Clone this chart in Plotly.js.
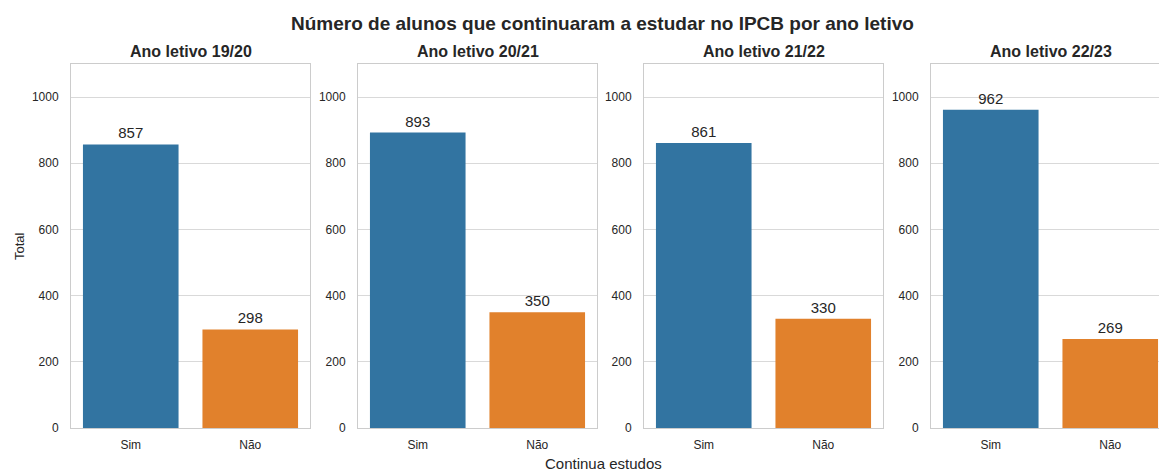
<!DOCTYPE html>
<html>
<head>
<meta charset="utf-8">
<script src="https://cdn.plot.ly/plotly-3.0.1.min.js"></script>
<style>
html,body{margin:0;padding:0;overflow:hidden;background:#fff;}
#chart{width:1172px;height:472px;}
</style>
</head>
<body>
<div id="chart"></div>
<script>
const categories = ['Sim', 'Não'];
const years = ['Ano letivo 19/20', 'Ano letivo 20/21', 'Ano letivo 21/22', 'Ano letivo 22/23'];
const simValues = [857, 893, 861, 962];
const naoValues = [298, 350, 330, 269];
const barColors = ['#3274a1', '#e1812c'];
const yTicks = [0, 200, 400, 600, 800, 1000];

const W = 1172;
const panelLeft = [71, 358, 644, 931];
const panelWidth = 239;
const font = 'Liberation Sans, Arial, sans-serif';
const txt = '#262626';

const data = [];
const layout = {
  width: W, height: 472,
  margin: {l: 0, r: 0, t: 64, b: 44},
  paper_bgcolor: '#fff', plot_bgcolor: '#fff',
  showlegend: false,
  font: {family: font, color: txt, size: 12},
  annotations: [],
  bargap: 0.2
};

years.forEach((yr, i) => {
  const n = i === 0 ? '' : String(i + 1);
  const vals = [simValues[i], naoValues[i]];
  data.push({
    type: 'bar', x: categories, y: vals,
    xaxis: 'x' + n, yaxis: 'y' + n,
    marker: {color: barColors, line: {width: 0}},
    text: vals.map(String), textposition: 'outside',
    textfont: {family: font, size: 15, color: txt},
    cliponaxis: false, hoverinfo: 'skip', width: 0.8
  });
  const d0 = panelLeft[i] / W, d1 = (panelLeft[i] + panelWidth) / W;
  layout['xaxis' + n] = {
    domain: [d0, d1], anchor: 'y' + n,
    range: [-0.5, 1.5], showgrid: false, zeroline: false,
    showline: true, mirror: true, linecolor: '#cccccc', linewidth: 1,
    ticks: '', tickfont: {family: font, size: 12, color: txt},
    ticklabelstandoff: 6, fixedrange: true
  };
  layout['yaxis' + n] = {
    domain: [0, 1], anchor: 'x' + n,
    range: [0, 1100], tickvals: yTicks, ticktext: yTicks.map(String),
    showgrid: true, gridcolor: '#d9d9d9', gridwidth: 1, zeroline: false,
    showline: true, mirror: true, linecolor: '#cccccc', linewidth: 1,
    ticks: '', tickfont: {family: font, size: 12, color: txt},
    ticklabelstandoff: 9, fixedrange: true
  };
  layout.annotations.push({
    text: '<b>' + yr + '</b>', xref: 'paper', yref: 'paper',
    x: (d0 + d1) / 2, y: 1, xanchor: 'center', yanchor: 'bottom', yshift: 2,
    showarrow: false, font: {family: font, size: 16, color: txt}
  });
});

layout.annotations.push({
  text: '<b>Número de alunos que continuaram a estudar no IPCB por ano letivo</b>',
  xref: 'paper', yref: 'paper', x: 602 / W, y: 1, yshift: 28,
  xanchor: 'center', yanchor: 'bottom', showarrow: false,
  font: {family: font, size: 19, color: txt}
});
layout.annotations.push({
  text: 'Total', xref: 'paper', yref: 'paper', x: 19 / W, y: 0.5,
  xanchor: 'center', yanchor: 'middle', textangle: -90, showarrow: false,
  font: {family: font, size: 13, color: txt}
});
layout.annotations.push({
  text: 'Continua estudos', xref: 'paper', yref: 'paper', x: 603 / W, y: 0,
  xanchor: 'center', yanchor: 'top', yshift: -25, showarrow: false,
  font: {family: font, size: 15, color: txt}
});

Plotly.newPlot('chart', data, layout, {displayModeBar: false, staticPlot: true});
</script>
</body>
</html>
